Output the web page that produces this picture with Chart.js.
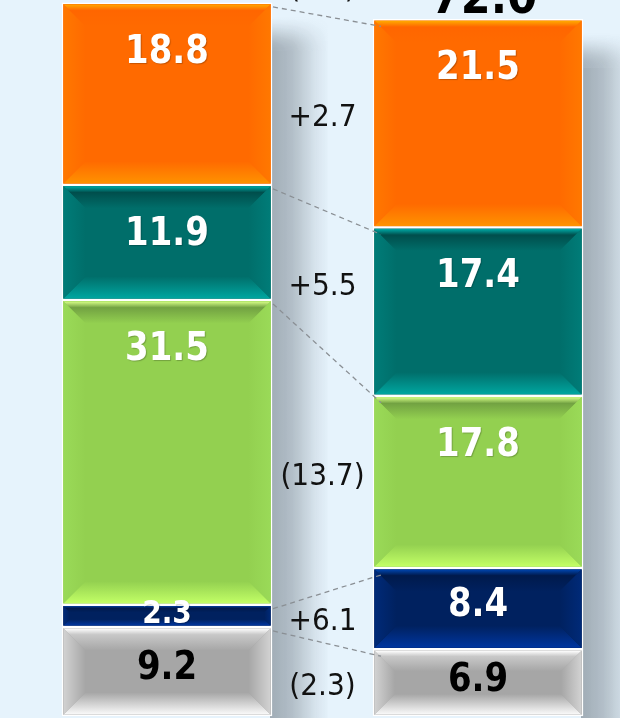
<!DOCTYPE html>
<html><head><meta charset="utf-8">
<script src="https://cdn.jsdelivr.net/npm/chart.js@4.4.1/dist/chart.umd.min.js"></script>
<style>
html,body{margin:0;padding:0;background:#E6F3FC;overflow:hidden}
#wrap{width:620px;height:718px;position:relative}
</style>
</head><body>
<div id="wrap"><canvas id="c" width="620" height="718"></canvas></div>
<script>
// ---- data ----
const categories = ['Before', 'After'];
const seriesNames = ['Gray', 'Navy', 'Green', 'Teal', 'Orange'];
const seriesGray = [9.2, 6.9];
const seriesNavy = [2.3, 8.4];
const seriesGreen = [31.5, 17.8];
const seriesTeal = [11.9, 17.4];
const seriesOrange = [18.8, 21.5];
const yMax = 74;

// ---- styles ----
const palette = [
  {base:'#A6A6A6', topEdge:'#FFFFFF', topDark:'#C8C8C8', bottomEdge:'#FAFAFA', side:'#D2D2D2', text:'#000000'},
  {base:'#00215F', topEdge:'#0046B0', topDark:'#001A4C', bottomEdge:'#0036A0', side:'#002A78', text:'#FFFFFF'},
  {base:'#93D050', topEdge:'#D8FF88', topDark:'#72A242', bottomEdge:'#C2FF66', side:'#9ADA58', text:'#FFFFFF'},
  {base:'#006E6A', topEdge:'#00AAA6', topDark:'#004E4C', bottomEdge:'#00A6A0', side:'#007C78', text:'#FFFFFF'},
  {base:'#FF6A00', topEdge:'#FFAA00', topDark:'#FF6600', bottomEdge:'#FF9200', side:'#FF7800', text:'#FFFFFF'}
];
const seriesValues = [seriesGray, seriesNavy, seriesGreen, seriesTeal, seriesOrange];
const BW = 1.5;

function fmtDelta(v) {
  const r = Math.round(v * 10) / 10;
  return r >= 0 ? '+' + r.toFixed(1) : '(' + Math.abs(r).toFixed(1) + ')';
}
function poly(ctx, pts, fill) {
  ctx.beginPath();
  ctx.moveTo(pts[0][0], pts[0][1]);
  for (let i = 1; i < pts.length; i++) ctx.lineTo(pts[i][0], pts[i][1]);
  ctx.closePath();
  ctx.fillStyle = fill;
  ctx.fill();
}
function bevel(ctx, L, T, R, B, c) {
  const h = B - T, w = R - L;
  const b = Math.min(22, h * 0.32, w * 0.3);
  let g = ctx.createLinearGradient(0, T, 0, T + b);
  g.addColorStop(0, c.topEdge); g.addColorStop(0.28, c.topDark); g.addColorStop(1, c.base);
  poly(ctx, [[L,T],[R,T],[R-b,T+b],[L+b,T+b]], g);
  g = ctx.createLinearGradient(0, B - b, 0, B);
  g.addColorStop(0, c.base); g.addColorStop(1, c.bottomEdge);
  poly(ctx, [[L,B],[R,B],[R-b,B-b],[L+b,B-b]], g);
  g = ctx.createLinearGradient(L, 0, L + b, 0);
  g.addColorStop(0, c.side); g.addColorStop(1, c.base);
  poly(ctx, [[L,T],[L+b,T+b],[L+b,B-b],[L,B]], g);
  g = ctx.createLinearGradient(R, 0, R - b, 0);
  g.addColorStop(0, c.side); g.addColorStop(1, c.base);
  poly(ctx, [[R,T],[R-b,T+b],[R-b,B-b],[R,B]], g);
}
function rectOf(el) {
  const p = el.getProps(['x','y','base','width'], true);
  return {L: p.x - p.width/2, R: p.x + p.width/2, T: Math.min(p.y, p.base), B: Math.max(p.y, p.base), x: p.x};
}
function tallText(ctx, txt, x, y, sy) {
  ctx.save();
  ctx.translate(x, y);
  ctx.scale(1, sy);
  ctx.fillText(txt, 0, 0);
  ctx.restore();
}

const decor = {
  id: 'decor',
  beforeDatasetsDraw(chart) {
    const ctx = chart.ctx;
    const n = chart.data.datasets.length;
    const first = chart.getDatasetMeta(0), last = chart.getDatasetMeta(n - 1);
    for (let j = 0; j < categories.length; j++) {
      const a = rectOf(first.data[j]), t = rectOf(last.data[j]);
      const sw = 58;
      const fadeStart = t.T + 12, fadeLen = 36;
      ctx.save();
      const gh = ctx.createLinearGradient(a.R, 0, a.R + sw, 0);
      gh.addColorStop(0, 'rgba(40,50,60,0.36)');
      gh.addColorStop(0.35, 'rgba(40,50,60,0.27)');
      gh.addColorStop(0.75, 'rgba(40,50,60,0.08)');
      gh.addColorStop(1, 'rgba(40,50,60,0)');
      ctx.fillStyle = gh;
      ctx.fillRect(a.R - 2, fadeStart + fadeLen, sw, a.B - t.T + 20);
      for (let k = 0; k < fadeLen; k++) {
        const s = (k + 0.5) / fadeLen;
        ctx.globalAlpha = s * s * (3 - 2 * s);
        ctx.fillRect(a.R - 2, fadeStart + k, sw, 1);
      }
      ctx.restore();
    }
  },
  afterDatasetsDraw(chart) {
    const ctx = chart.ctx;
    const n = chart.data.datasets.length;
    // bevels
    for (let i = 0; i < n; i++) {
      const meta = chart.getDatasetMeta(i);
      meta.data.forEach(el => {
        const r = rectOf(el);
        bevel(ctx, r.L + BW, r.T + BW, r.R - BW, r.B - BW, palette[i]);
      });
    }
    // dashed connectors
    ctx.save();
    ctx.strokeStyle = '#8a8f94';
    ctx.lineWidth = 1.3;
    ctx.setLineDash([5, 4]);
    for (let i = 0; i < n; i++) {
      const meta = chart.getDatasetMeta(i);
      const a = rectOf(meta.data[0]), b = rectOf(meta.data[1]);
      ctx.beginPath();
      ctx.moveTo(a.R + 1, a.T + 4);
      ctx.lineTo(b.L + 8, b.T + 7);
      ctx.stroke();
    }
    ctx.restore();
    // segment value labels
    ctx.save();
    ctx.textAlign = 'center';
    ctx.textBaseline = 'middle';
    for (let i = 0; i < n; i++) {
      const meta = chart.getDatasetMeta(i);
      meta.data.forEach((el, j) => {
        const r = rectOf(el);
        const h = r.B - r.T;
        const v = seriesValues[i][j];
        const size = h < 40 ? 28 : 34;
        ctx.font = 'bold ' + size + 'px "DejaVu Sans"';
        ctx.fillStyle = palette[i].text;
        if (palette[i].text === '#FFFFFF') {
          ctx.shadowColor = 'rgba(0,0,0,0.22)';
          ctx.shadowOffsetX = 1; ctx.shadowOffsetY = 1; ctx.shadowBlur = 1;
        } else {
          ctx.shadowColor = 'rgba(0,0,0,0)';
        }
        tallText(ctx, v.toFixed(1), r.x, r.T + Math.min(50, h * 0.47), 1.14);
      });
    }
    ctx.restore();
    // delta labels between bars
    ctx.save();
    ctx.textAlign = 'center';
    ctx.textBaseline = 'middle';
    ctx.font = '28px "DejaVu Sans"';
    ctx.fillStyle = '#111111';
    for (let i = 0; i < n; i++) {
      const meta = chart.getDatasetMeta(i);
      const a = rectOf(meta.data[0]), b = rectOf(meta.data[1]);
      const cx = (a.R + b.L) / 2;
      const cy = ((a.T + b.T) / 2 + (a.B + b.B) / 2) / 2 + 10;
      tallText(ctx, fmtDelta(seriesValues[i][1] - seriesValues[i][0]), cx, cy, 1.08);
    }
    // totals
    const totals = categories.map((_, j) => seriesValues.reduce((s, arr) => s + arr[j], 0));
    const last = chart.getDatasetMeta(n - 1);
    const ta = rectOf(last.data[0]), tb = rectOf(last.data[1]);
    ctx.textBaseline = 'alphabetic';
    ctx.fillText(fmtDelta(totals[1] - totals[0]), (ta.R + tb.L) / 2, Math.min(ta.T, tb.T) - 5);
    ctx.font = 'bold 43px "DejaVu Sans"';
    ctx.fillStyle = '#000000';
    tallText(ctx, totals[0].toFixed(1), ta.x + 6, ta.T - 6, 1.12);
    tallText(ctx, totals[1].toFixed(1), tb.x + 6, tb.T - 6, 1.12);
    ctx.restore();
  }
};

new Chart(document.getElementById('c'), {
  type: 'bar',
  data: {
    labels: categories,
    datasets: seriesValues.map((vals, i) => ({
      label: seriesNames[i],
      data: vals,
      backgroundColor: palette[i].base,
      borderColor: '#FFFFFF',
      borderWidth: BW,
      borderSkipped: false,
      barThickness: 210,
      clip: false
    }))
  },
  options: {
    responsive: false,
    devicePixelRatio: 1,
    animation: false,
    layout: {padding: {left: 167, right: 142, top: 0, bottom: 2}},
    plugins: {legend: {display: false}, tooltip: {enabled: false}},
    scales: {
      x: {type: 'category', stacked: true, offset: false, display: false},
      y: {stacked: true, min: 0, max: yMax, display: false}
    }
  },
  plugins: [decor]
});
</script>
</body></html>
